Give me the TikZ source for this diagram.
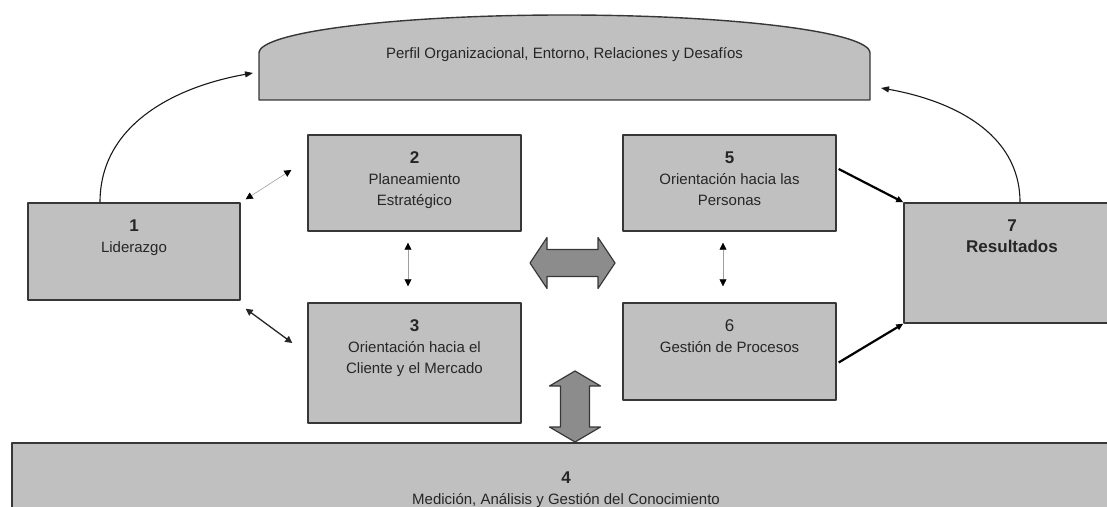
\documentclass[tikz,border=0pt]{standalone}
\usepackage{fontspec}
\setmainfont{Liberation Sans}
\usetikzlibrary{positioning,arrows.meta}

\definecolor{cajagris}{RGB}{192,192,192}
\definecolor{flechagris}{RGB}{140,140,140}
\definecolor{bordegris}{RGB}{55,55,55}
\newcommand{\numero}[1]{{\fontsize{17}{21}\selectfont\bfseries #1}}

\begin{document}
\begin{tikzpicture}[x=1pt, y=1pt, line join=round,
    caja/.style={draw=bordegris, line width=1.4pt, fill=cajagris, inner sep=0pt},
    texto/.style={align=center, inner sep=0pt, text=black!85, font=\fontsize{15}{21}\selectfont},
    fina/.style={{Triangle[length=7pt,width=7pt,color=black]}-{Triangle[length=7pt,width=7pt,color=black]}, draw=gray!75, line width=0.6pt},
    media/.style={{Triangle[length=7pt,width=7pt]}-{Triangle[length=7pt,width=7pt]}, draw=black!85, line width=1.3pt},
    gruesa/.style={-{Triangle[length=7pt,width=6pt]}, draw=black, line width=2.2pt},
    curva/.style={-{Triangle[length=8pt,width=6pt]}, draw=black!90, line width=1.1pt},
    bigarrow/.style={draw=bordegris, line width=1.2pt, fill=flechagris}]

    \clip (0,0) rectangle (1107,506);

    % Perfil organizacional (cupula)
    \coordinate (pSO) at (259,406);
    \draw[caja] (pSO) -- ++(0,47) arc[start angle=180, end angle=0, x radius=305.5, y radius=38] -- ++(0,-47) -- cycle;
    \node[texto] (perfil) at (564.5,451) {Perfil Organizacional, Entorno, Relaciones y Desafíos};
    \coordinate (entradaI) at (253,433);
    \coordinate (entradaD) at (881,418);

    % Criterios
    \node[caja, minimum width=212, minimum height=97] (lid) at (134,254.5) {};
    \node[texto, below=17pt of lid.north] (tlid) {\numero{1}\\Liderazgo};

    \node[caja, minimum width=213, minimum height=96] (plan) at (414.5,323) {};
    \node[texto, below=17pt of plan.north] (tplan) {\numero{2}\\Planeamiento\\Estratégico};

    \node[caja, minimum width=213, minimum height=120] (cli) at (414.5,143) {};
    \node[texto, below=17pt of cli.north] (tcli) {\numero{3}\\Orientación hacia el\\Cliente y el Mercado};

    \node[caja, minimum width=1108, minimum height=87] (med) at (566,19.5) {};
    \node[texto, below=29pt of med.north] (tmed) {\numero{4}\\Medición, Análisis y Gestión del Conocimiento};

    \node[caja, minimum width=213, minimum height=96] (per) at (729.5,323) {};
    \node[texto, below=17pt of per.north] (tper) {\numero{5}\\Orientación hacia las\\Personas};

    \node[caja, minimum width=213, minimum height=97] (proc) at (729.5,154.5) {};
    \node[texto, below=17pt of proc.north] (tproc) {{\fontsize{17}{21}\selectfont 6}\\Gestión de Procesos};

    \node[caja, minimum width=216, minimum height=120] (res) at (1012,243) {};
    \node[texto, below=17pt of res.north] (tres) {\numero{7}\\{\fontsize{17}{21}\selectfont\bfseries Resultados}};

    % Relaciones
    \draw[curva] ([xshift=-34pt]lid.north) to[out=90, in=190] (entradaI);
    \draw[curva] ([xshift=8pt]res.north) to[out=90, in=-10] (entradaD);

    \draw[fina] ([shift={(5pt,3pt)}]lid.north east) -- ([shift={(-16pt,13pt)}]plan.west);
    \draw[media] ([shift={(5pt,-8pt)}]lid.south east) -- ([shift={(-15pt,20pt)}]cli.west);
    \draw[fina] ([shift={(-6.5pt,-11pt)}]plan.south) -- ([shift={(-6.5pt,16pt)}]cli.north);
    \draw[fina] ([shift={(-6.5pt,-11pt)}]per.south) -- ([shift={(-6.5pt,16pt)}]proc.north);

    \draw[gruesa] ([shift={(2pt,14pt)}]per.east) -- (res.north west);
    \draw[gruesa] ([shift={(2pt,-11pt)}]proc.east) -- (res.south west);

    % Flechas dobles grandes
    \draw[bigarrow, shift={(572.5,243)}] (-42.5,0) -- (-25.5,25.5) -- (-25.5,13.5) -- (25.5,13.5) -- (25.5,25.5)
        -- (42.5,0) -- (25.5,-25.5) -- (25.5,-13.5) -- (-25.5,-13.5) -- (-25.5,-25.5) -- cycle;
    \draw[bigarrow, shift={(575,99.5)}] (0,35.5) -- (25.5,20.5) -- (14.5,20.5) -- (14.5,-20.5) -- (25.5,-20.5)
        -- (0,-35.5) -- (-25.5,-20.5) -- (-14.5,-20.5) -- (-14.5,20.5) -- (-25.5,20.5) -- cycle;

\end{tikzpicture}
\end{document}
